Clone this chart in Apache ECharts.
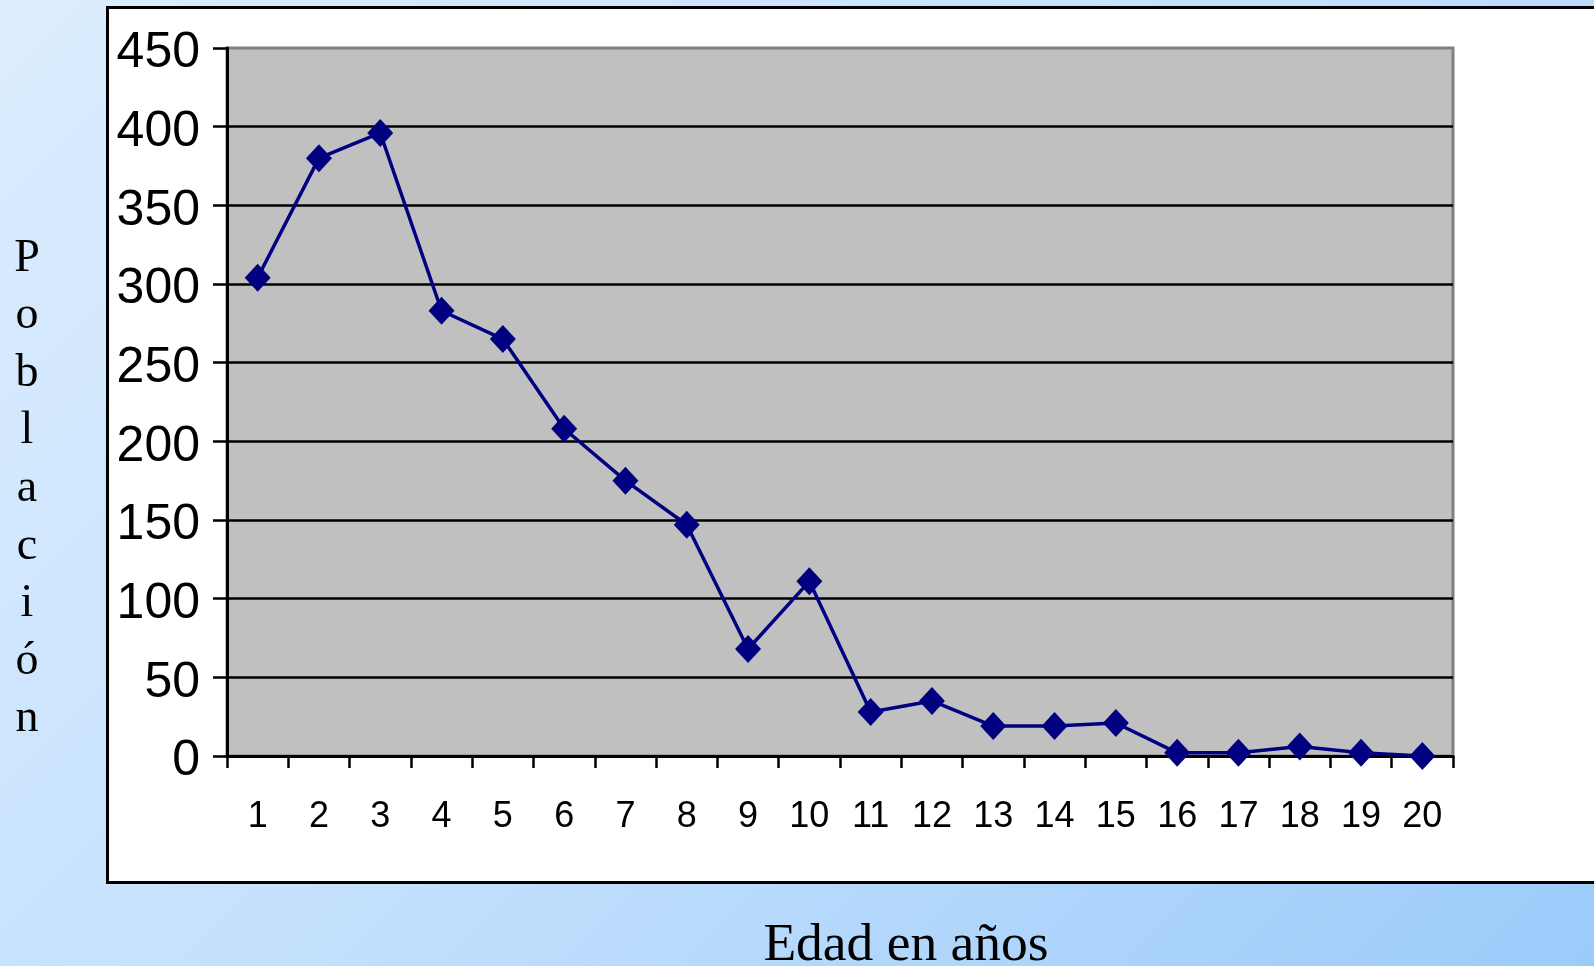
<!DOCTYPE html>
<html>
<head>
<meta charset="utf-8">
<script src="https://cdn.jsdelivr.net/npm/echarts@6/dist/echarts.min.js"></script>
<style>
  html, body { margin: 0; padding: 0; width: 1594px; height: 966px; overflow: hidden; }
  body { background: linear-gradient(135deg, #dcedfe 0%, #c3e0fd 50%, #9ccbfa 100%); position: relative; }
  #box { position: absolute; left: 106px; top: 6px; width: 1600px; height: 872px; border: 3px solid #000; background: #fff; }
  #chart { position: absolute; left: 0; top: 0; width: 1594px; height: 966px; }
</style>
</head>
<body>
<div id="box"></div>
<div id="chart"></div>
<script>
const categories = ['1','2','3','4','5','6','7','8','9','10','11','12','13','14','15','16','17','18','19','20'];
const poblacion = [304, 380, 396, 283, 265, 208, 175, 147, 68, 111, 28, 35, 19, 19, 21, 2, 2, 6, 2, 0];
const yAxisTitle = 'Población';
const xAxisTitle = 'Edad en años';

const chart = echarts.init(document.getElementById('chart'), null, { renderer: 'canvas' });
chart.setOption({
  backgroundColor: 'transparent',
  animation: false,
  grid: {
    left: 227, right: 141, top: 48, bottom: 210,
    show: true, backgroundColor: '#c0c0c0', borderColor: '#808080', borderWidth: 3
  },
  xAxis: {
    type: 'category',
    data: categories,
    boundaryGap: true,
    axisLine: { lineStyle: { color: '#000', width: 3 } },
    axisTick: { show: true, length: 12, lineStyle: { color: '#000', width: 2.5 } },
    axisLabel: { color: '#000', fontSize: 36, fontFamily: 'Liberation Sans, Arial, sans-serif', margin: 43, interval: 0 },
    splitLine: { show: false }
  },
  yAxis: {
    type: 'value',
    min: 0, max: 450, interval: 50,
    axisLine: { show: true, lineStyle: { color: '#000', width: 3 } },
    axisTick: { show: true, length: 14, lineStyle: { color: '#000', width: 2.5 } },
    axisLabel: { color: '#000', fontSize: 50, fontFamily: 'Liberation Sans, Arial, sans-serif', margin: 27, verticalAlign: 'top', lineHeight: 11 },
    splitLine: { show: true, showMaxLine: false, lineStyle: { color: '#000', width: 2.5 } }
  },
  graphic: [
    {
      type: 'text', x: 27, y: 489,
      style: {
        text: yAxisTitle.split('').join('\n'),
        fontSize: 46, lineHeight: 57.6, fontFamily: 'Liberation Serif, Times New Roman, serif',
        fill: '#000', align: 'center', verticalAlign: 'middle'
      }
    },
    {
      type: 'text', x: 906, y: 946,
      style: {
        text: xAxisTitle,
        fontSize: 53.5, fontFamily: 'Liberation Serif, Times New Roman, serif',
        fill: '#000', align: 'center', verticalAlign: 'middle'
      }
    }
  ],
  series: [{
    type: 'line',
    data: poblacion,
    symbol: 'diamond',
    symbolSize: [26, 28],
    lineStyle: { color: '#000080', width: 3.5 },
    itemStyle: { color: '#000080' },
    z: 5
  }]
});
</script>
</body>
</html>
